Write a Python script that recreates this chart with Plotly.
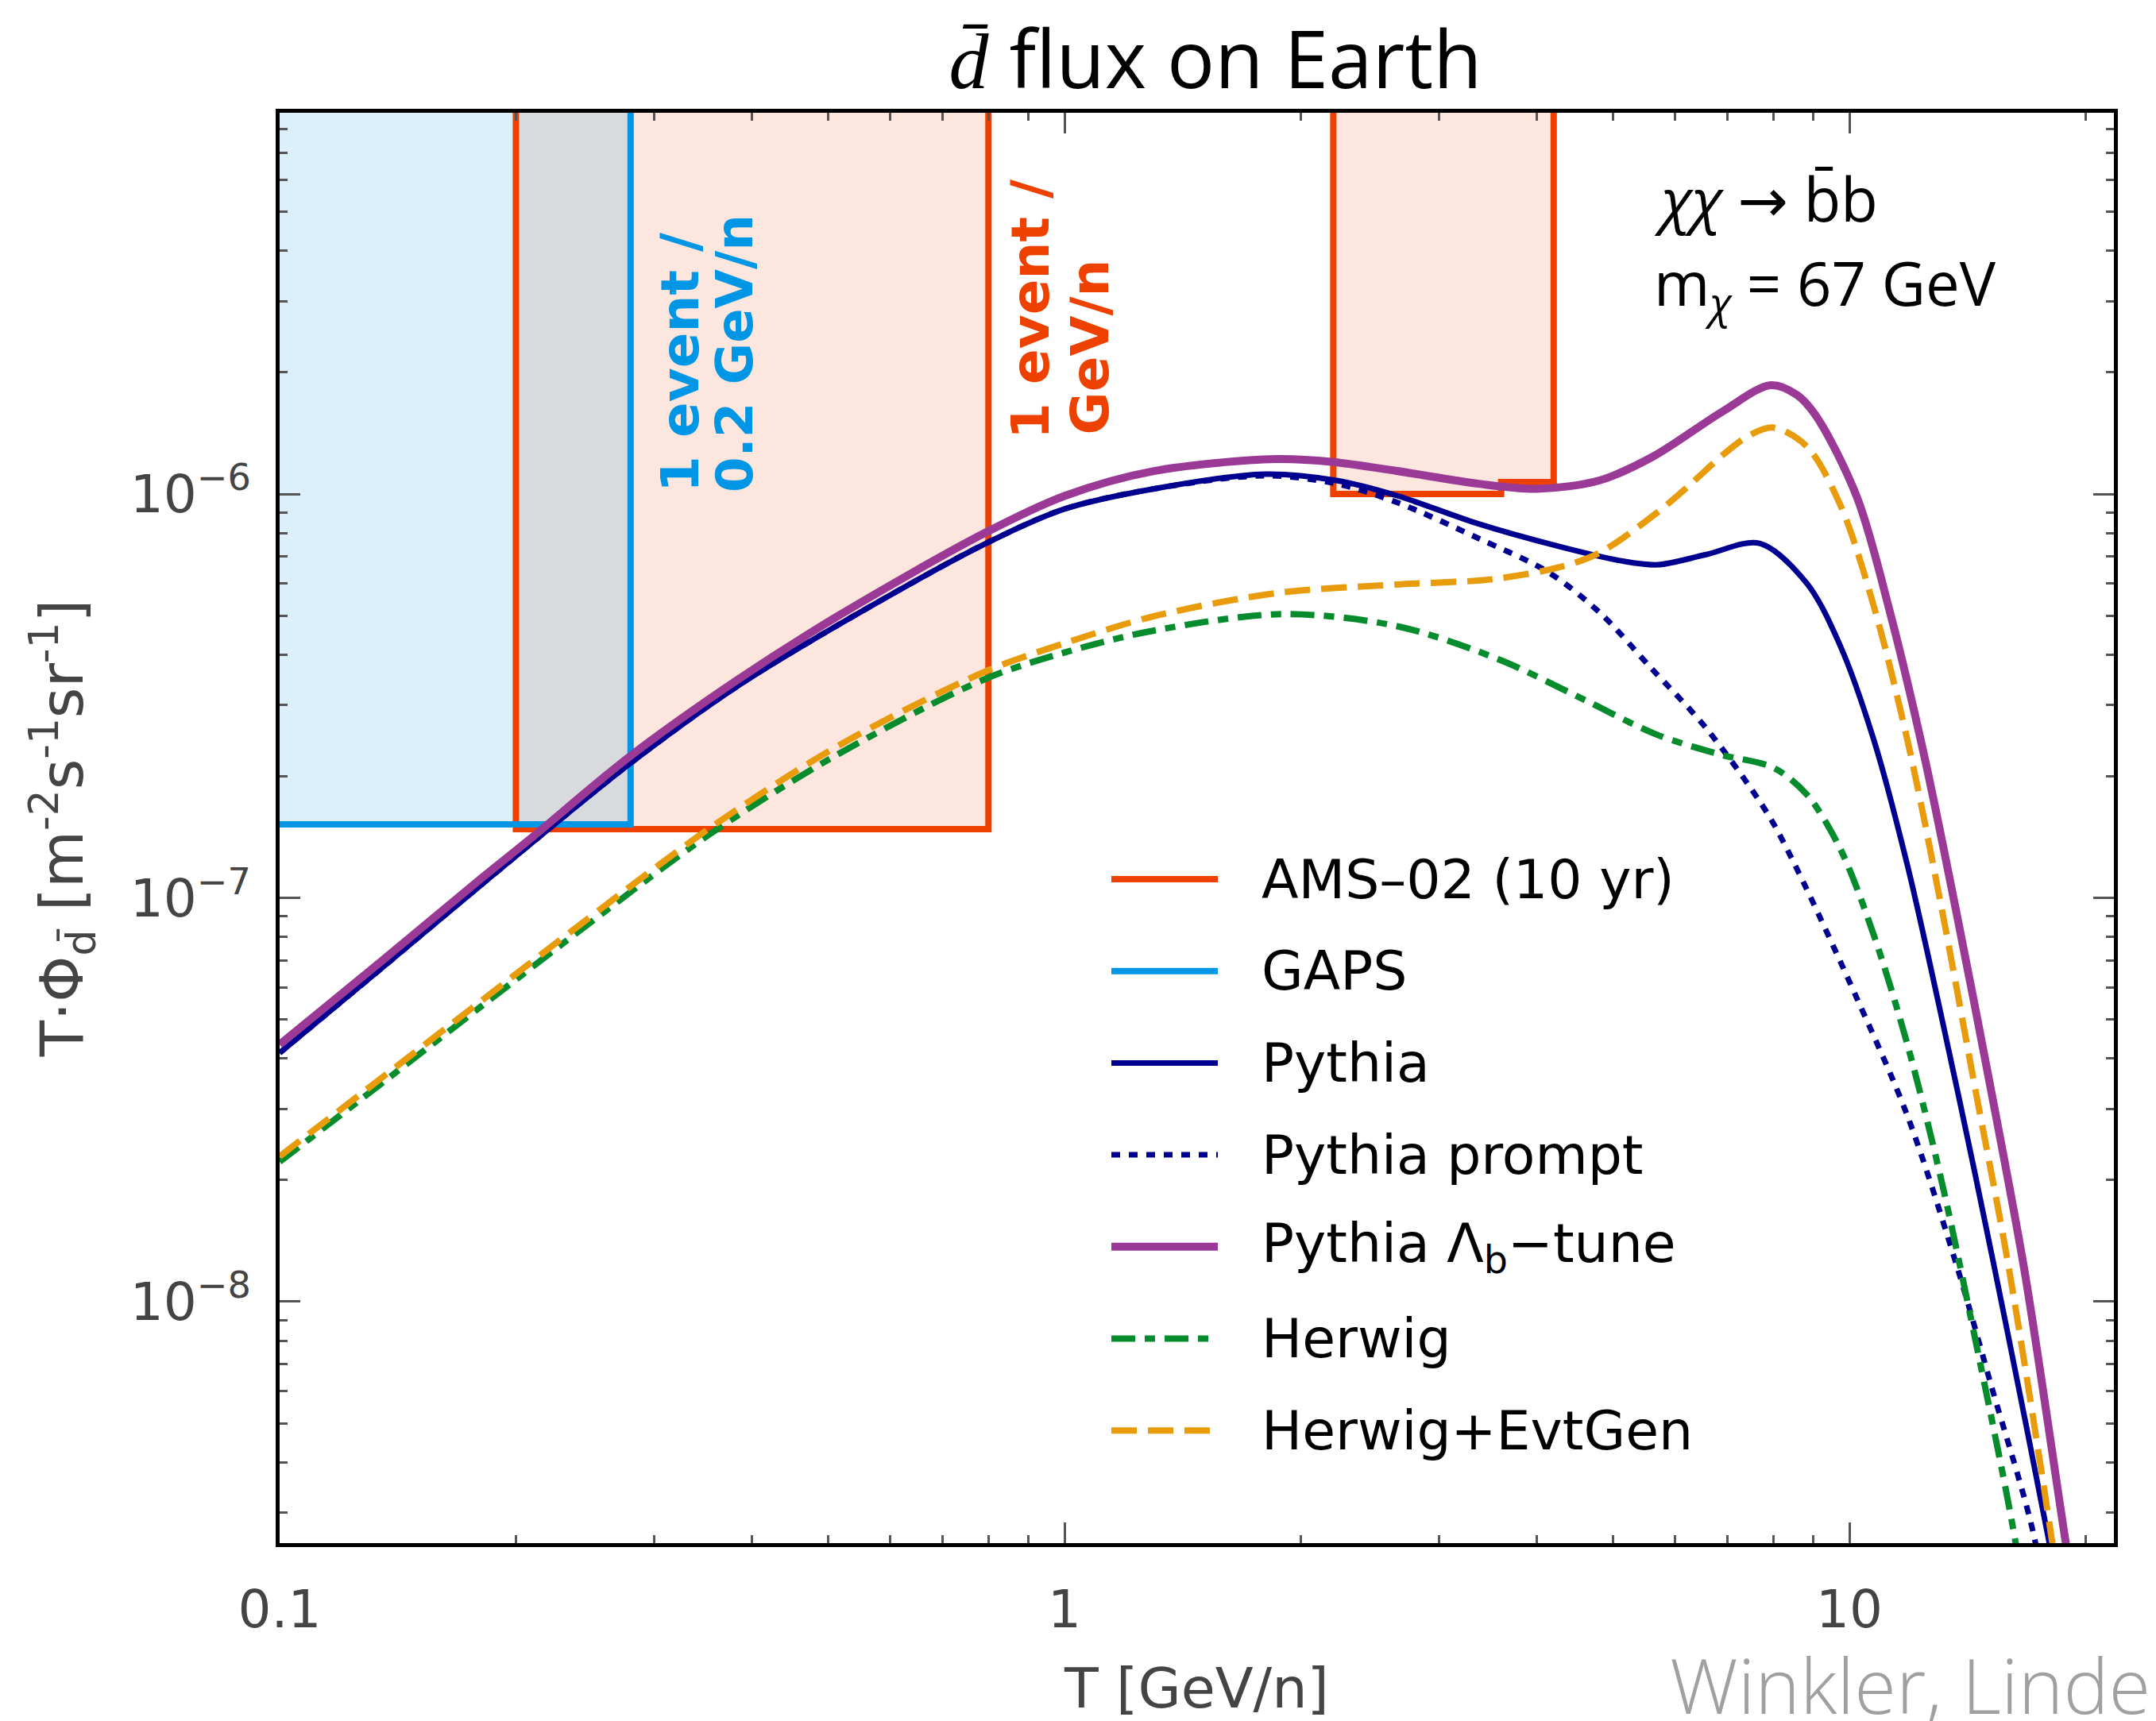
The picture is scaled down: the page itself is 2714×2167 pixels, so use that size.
import plotly.graph_objects as go

# ---------------- data ----------------
# T = kinetic energy per nucleon [GeV/n];  F = T * flux [m^-2 s^-1 sr^-1]
pythia_T = [0.1, 0.1346, 0.181, 0.2786, 0.381, 0.513, 0.789, 1.0, 1.30, 1.80, 2.22, 2.65, 3.37,
            4.27, 5.1, 5.7, 6.57, 7.68, 8.83, 9.74, 10.75, 11.86, 13.08, 14.43, 15.93, 17.93, 18.8]
pythia_F = [4.13e-8, 6.67e-8, 1.08e-7, 2.14e-7, 3.32e-7, 4.72e-7, 7.50e-7, 9.18e-7, 1.03e-6, 1.12e-6,
            1.08e-6, 9.91e-7, 8.43e-7, 7.41e-7, 6.84e-7, 6.68e-7, 7.08e-7, 7.55e-7, 6.00e-7, 4.20e-7,
            2.45e-7, 1.20e-7, 5.15e-8, 2.11e-8, 8.26e-9, 2.59e-9, 1.58e-9]

prompt_T = [0.1, 0.1346, 0.181, 0.2786, 0.381, 0.513, 0.789, 1.0, 1.30, 1.80, 2.22, 2.66, 3.37,
            4.13, 4.81, 5.58, 6.57, 7.86, 8.59, 10.23, 11.86, 13.75, 15.17, 17.23, 18.0]
prompt_F = [4.13e-8, 6.67e-8, 1.08e-7, 2.14e-7, 3.32e-7, 4.72e-7, 7.50e-7, 9.18e-7, 1.03e-6, 1.11e-6,
            1.06e-6, 9.51e-7, 7.76e-7, 6.41e-7, 5.08e-7, 3.72e-7, 2.63e-7, 1.62e-7, 1.17e-7, 5.62e-8,
            2.88e-8, 1.20e-8, 6.17e-9, 2.57e-9, 1.41e-9]

lambdab_T = [0.1, 0.1346, 0.181, 0.2105, 0.2786, 0.381, 0.513, 0.789, 1.0, 1.30, 1.86, 2.20, 2.65,
             3.37, 4.0, 4.8, 5.63, 6.89, 7.94, 8.57, 9.09, 10.23, 11.29, 12.46, 13.75, 15.17,
             16.73, 18.83, 19.6]
lambdab_F = [4.33e-8, 6.95e-8, 1.12e-7, 1.42e-7, 2.23e-7, 3.44e-7, 4.97e-7, 7.98e-7, 9.89e-7, 1.14e-6,
             1.22e-6, 1.20e-6, 1.14e-6, 1.06e-6, 1.03e-6, 1.08e-6, 1.24e-6, 1.60e-6, 1.86e-6, 1.76e-6,
             1.55e-6, 9.79e-7, 5.01e-7, 2.24e-7, 8.81e-8, 3.30e-8, 1.18e-8, 2.59e-9, 1.58e-9]

herwig_T = [0.1, 0.1346, 0.181, 0.2439, 0.3536, 0.513, 0.789, 1.0, 1.30, 1.90, 2.66, 3.58, 4.6,
            5.67, 6.87, 8.0, 8.83, 9.74, 10.75, 11.86, 13.08, 14.43, 16.25, 17.0]
herwig_F = [2.22e-8, 3.46e-8, 5.40e-8, 8.43e-8, 1.44e-7, 2.26e-7, 3.47e-7, 4.05e-7, 4.59e-7, 5.04e-7,
            4.70e-7, 3.89e-7, 3.09e-7, 2.54e-7, 2.26e-7, 2.10e-7, 1.80e-7, 1.32e-7, 8.05e-8, 4.32e-8,
            2.02e-8, 8.26e-9, 2.59e-9, 1.41e-9]

evtgen_T = [0.1, 0.1346, 0.181, 0.2439, 0.3536, 0.513, 0.789, 1.0, 1.30, 1.86, 2.66, 3.5, 4.3,
            4.81, 5.67, 6.25, 6.90, 7.47, 8.0, 8.83, 9.74, 10.75, 11.86, 13.08, 14.43, 15.93, 18.1, 18.9]
evtgen_F = [2.29e-8, 3.57e-8, 5.57e-8, 8.71e-8, 1.49e-7, 2.37e-7, 3.62e-7, 4.27e-7, 4.98e-7, 5.68e-7,
            5.97e-7, 6.15e-7, 6.61e-7, 7.16e-7, 8.95e-7, 1.05e-6, 1.25e-6, 1.40e-6, 1.46e-6, 1.31e-6,
            9.38e-7, 5.25e-7, 2.45e-7, 9.62e-8, 3.45e-8, 1.24e-8, 2.59e-9, 1.41e-9]

# sensitivity regions (bins and levels)
ams_lo = [0.2, 2.2, 3.6]
ams_hi = [0.8, 3.6, 4.2]
ams_level = [1.48e-7, 1.00e-6, 1.07e-6]
gaps_lo = [0.09]
gaps_hi = [0.28]
gaps_level = [1.52e-7]

x_tick_vals = [0.1, 1, 10]
x_tick_text = ["0.1", "1", "10"]
y_tick_vals = [1e-8, 1e-7, 1e-6]
y_tick_text = ["10<sup>−8</sup>", "10<sup>−7</sup>", "10<sup>−6</sup>"]

legend_labels = ["AMS–02 (10 yr)", "GAPS", "Pythia", "Pythia prompt",
                 "Pythia Λ<sub>b</sub>−tune", "Herwig", "Herwig+EvtGen"]

# ---------------- styles ----------------
AMS_C = "#ee4100"
GAPS_C = "#0096e6"
PYTHIA_C = "#000090"
LAMBDA_C = "#9b3996"
HERWIG_C = "#068c2c"
EVTGEN_C = "#e89b0b"
AMS_FILL = "rgba(239,65,0,0.13)"
GAPS_FILL = "rgba(0,150,230,0.14)"
SKY = 1e-4  # beyond the top of the axes
TICK_C = "#555555"
LABEL_C = "#444444"

styles = [
    dict(color=AMS_C, width=8, dash="solid"),
    dict(color=GAPS_C, width=8, dash="solid"),
    dict(color=PYTHIA_C, width=7, dash="solid"),
    dict(color=PYTHIA_C, width=7, dash="11px,11px"),
    dict(color=LAMBDA_C, width=10, dash="solid"),
    dict(color=HERWIG_C, width=8, dash="30px,12px,13px,12px"),
    dict(color=EVTGEN_C, width=8, dash="32px,14px"),
]


def step_outline(lo, hi, level, top):
    xs, ys = [], []
    prev = None
    for a, b, v in zip(lo, hi, level):
        if prev is None or abs(a - prev) > 1e-9:
            if xs:
                xs += [prev, None]
                ys += [top, None]
            xs.append(a)
            ys.append(top)
        xs += [a, b]
        ys += [v, v]
        prev = b
    xs.append(prev)
    ys.append(top)
    return xs, ys


fig = go.Figure()

ams_x, ams_y = step_outline(ams_lo, ams_hi, ams_level, SKY)
gaps_x, gaps_y = step_outline(gaps_lo, gaps_hi, gaps_level, SKY)

fig.add_trace(go.Scatter(x=ams_x, y=ams_y, mode="lines", fill="toself", fillcolor=AMS_FILL,
                         line=dict(width=0, color="rgba(0,0,0,0)"), showlegend=False, hoverinfo="skip"))
fig.add_trace(go.Scatter(x=gaps_x, y=gaps_y, mode="lines", fill="toself", fillcolor=GAPS_FILL,
                         line=dict(width=0, color="rgba(0,0,0,0)"), showlegend=False, hoverinfo="skip"))
fig.add_trace(go.Scatter(x=ams_x, y=ams_y, mode="lines", name=legend_labels[0],
                         line=styles[0], showlegend=False))
fig.add_trace(go.Scatter(x=gaps_x, y=gaps_y, mode="lines", name=legend_labels[1],
                         line=styles[1], showlegend=False))

curves = [(pythia_T, pythia_F, 2), (prompt_T, prompt_F, 3), (lambdab_T, lambdab_F, 4),
          (herwig_T, herwig_F, 5), (evtgen_T, evtgen_F, 6)]
for xs, ys, k in curves:
    fig.add_trace(go.Scatter(x=xs, y=ys, mode="lines", name=legend_labels[k],
                             line=dict(**styles[k], shape="spline", smoothing=0.9),
                             showlegend=False))

# ---------------- layout ----------------
# target positions are measured on the 2714x2167 page; the page body adds an 8 px offset
PAGE_W, PAGE_H = 2714, 2167
OFF = 8
W, H = PAGE_W - OFF, PAGE_H - OFF
PLOT_L, PLOT_R, PLOT_T, PLOT_B = 352, 2661, 142, 1943   # page pixels
ML, MT = PLOT_L - OFF, PLOT_T - OFF
MR, MB = W - (PLOT_R - OFF), H - (PLOT_B - OFF)
PW, PH = PLOT_R - PLOT_L, PLOT_B - PLOT_T


def px_to_paper_x(px):
    return (px - PLOT_L) / PW


def px_to_paper_y(py):
    return (PLOT_B - py) / PH


x_minor = [m * 10.0 ** e for e in (-1, 0, 1) for m in range(2, 10)]
y_minor = [m * 10.0 ** e for e in (-9, -8, -7, -6) for m in range(2, 10)]

axis_common = dict(
    type="log", showline=True, linecolor="black", linewidth=5, mirror="allticks",
    ticks="inside", ticklen=26, tickwidth=3, tickcolor=TICK_C, showgrid=False, zeroline=False,
    tickfont=dict(family="DejaVu Sans", size=66, color=LABEL_C),
)

fig.update_layout(
    width=W, height=H, margin=dict(l=ML, r=MR, t=MT, b=MB, autoexpand=False),
    paper_bgcolor="white", plot_bgcolor="white", hovermode=False, showlegend=False,
    title=dict(
        text="<span style='font-family:Liberation Serif'><i>d\u0304</i></span> flux on Earth",
        font=dict(family="Open Sans", size=100, color="black"),
        x=(1530 - OFF) / W, xref="container", xanchor="center",
        y=1 - (76 - OFF) / H, yref="container", yanchor="middle",
    ),
    xaxis=dict(
        **axis_common, range=[-1, 1.337], tickmode="array", tickvals=x_tick_vals,
        ticktext=x_tick_text, ticklabelstandoff=22,
        minor=dict(ticks="inside", ticklen=10, tickwidth=2.5, tickcolor=TICK_C,
                   tickmode="array", tickvals=x_minor, showgrid=False),
        title=dict(text="T [GeV/n]", font=dict(family="DejaVu Sans", size=70, color=LABEL_C),
                   standoff=38),
    ),
    yaxis=dict(
        **axis_common, range=[-8.598, -5.056], tickmode="array", tickvals=y_tick_vals,
        ticktext=y_tick_text, ticklabelstandoff=18,
        minor=dict(ticks="inside", ticklen=10, tickwidth=2.5, tickcolor=TICK_C,
                   tickmode="array", tickvals=y_minor, showgrid=False),
        title=dict(text="T·Φ<sub>d\u0304</sub> [m<sup>-2</sup>s<sup>-1</sup>sr<sup>-1</sup>]",
                   font=dict(family="DejaVu Sans", size=74, color=LABEL_C), standoff=36),
    ),
)

annotations = []
# rotated detector labels
rot_labels = [
    ("1 event /", GAPS_C, 856, 622, 66),
    ("0.2 GeV/n", GAPS_C, 925, 622, 64),
    ("1 event /", AMS_C, 1297, 555, 66),
    ("GeV/n", AMS_C, 1372, 550, 66),
]
for txt, col, cx, by, fs in rot_labels:
    annotations.append(dict(
        text=txt, xref="paper", yref="paper", x=px_to_paper_x(cx), y=px_to_paper_y(by),
        xanchor="center", yanchor="bottom", textangle=-90, showarrow=False,
        font=dict(family="DejaVu Sans", size=fs, color=col, weight="bold"),
    ))

# process labels
annotations.append(dict(
    text="<i>χχ</i> <span style='font-family:DejaVu Sans'>→</span> b\u0304b",
    xref="paper", yref="paper",
    x=px_to_paper_x(2080), y=px_to_paper_y(250), xanchor="left", yanchor="middle",
    showarrow=False, font=dict(family="Open Sans", size=76, color="black")))
annotations.append(dict(
    text="m<sub><i>χ</i></sub> = 67 GeV", xref="paper", yref="paper",
    x=px_to_paper_x(2080), y=px_to_paper_y(360), xanchor="left", yanchor="middle",
    showarrow=False, font=dict(family="Open Sans", size=76, color="black")))

# credit
annotations.append(dict(
    text="Winkler, Linden", xref="paper", yref="paper",
    x=px_to_paper_x(2100), y=px_to_paper_y(2120), xanchor="left", yanchor="middle",
    showarrow=False, font=dict(family="Open Sans", size=96, color="#a0a0a0", weight=300)))

# legend (drawn as sample lines + labels)
LEG_X0, LEG_X1, LEG_TX = 1399, 1533, 1586
LEG_Y0, LEG_DY = 1107, 115.7
shapes = []
for i, (lab, st) in enumerate(zip(legend_labels, styles)):
    yy = px_to_paper_y(LEG_Y0 + i * LEG_DY)
    shapes.append(dict(type="line", xref="paper", yref="paper",
                       x0=px_to_paper_x(LEG_X0), x1=px_to_paper_x(LEG_X1), y0=yy, y1=yy,
                       line=dict(color=st["color"], width=st["width"], dash=st["dash"]),
                       layer="above"))
    annotations.append(dict(
        text=lab, xref="paper", yref="paper", x=px_to_paper_x(LEG_TX), y=yy,
        xanchor="left", yanchor="middle", showarrow=False,
        font=dict(family="DejaVu Sans", size=68, color="black")))

fig.update_layout(annotations=annotations, shapes=shapes)

fig.write_html("out.html")
